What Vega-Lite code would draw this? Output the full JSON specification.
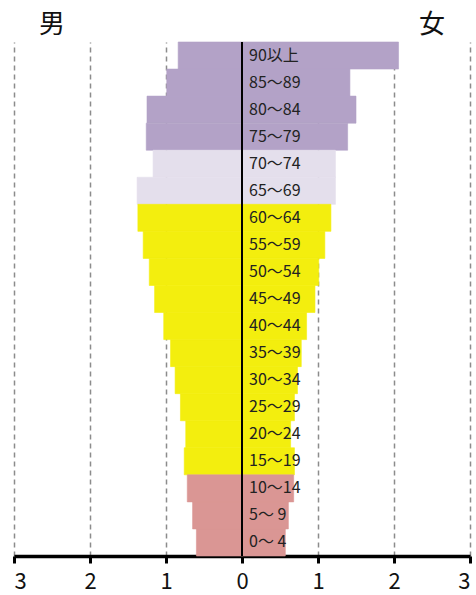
{
  "$schema": "https://vega.github.io/schema/vega-lite/v6.json",
  "autosize": "none",
  "width": 456,
  "height": 514,
  "padding": {"left": 14, "top": 42, "right": 6, "bottom": 39},
  "background": "white",
  "config": {"view": {"stroke": null}, "font": "Noto Sans CJK JP"},
  "datasets": {
    "pop": [
      {"age": "90以上", "sex": "男", "value": -0.84, "group": "75歳以上"},
      {"age": "85～89", "sex": "男", "value": -0.99, "group": "75歳以上"},
      {"age": "80～84", "sex": "男", "value": -1.25, "group": "75歳以上"},
      {"age": "75～79", "sex": "男", "value": -1.26, "group": "75歳以上"},
      {"age": "70～74", "sex": "男", "value": -1.17, "group": "65～74歳"},
      {"age": "65～69", "sex": "男", "value": -1.38, "group": "65～74歳"},
      {"age": "60～64", "sex": "男", "value": -1.37, "group": "15～64歳"},
      {"age": "55～59", "sex": "男", "value": -1.30, "group": "15～64歳"},
      {"age": "50～54", "sex": "男", "value": -1.22, "group": "15～64歳"},
      {"age": "45～49", "sex": "男", "value": -1.15, "group": "15～64歳"},
      {"age": "40～44", "sex": "男", "value": -1.03, "group": "15～64歳"},
      {"age": "35～39", "sex": "男", "value": -0.94, "group": "15～64歳"},
      {"age": "30～34", "sex": "男", "value": -0.88, "group": "15～64歳"},
      {"age": "25～29", "sex": "男", "value": -0.81, "group": "15～64歳"},
      {"age": "20～24", "sex": "男", "value": -0.74, "group": "15～64歳"},
      {"age": "15～19", "sex": "男", "value": -0.76, "group": "15～64歳"},
      {"age": "10～14", "sex": "男", "value": -0.72, "group": "0～14歳"},
      {"age": "\u20025～ 9", "sex": "男", "value": -0.65, "group": "0～14歳"},
      {"age": "\u20020～ 4", "sex": "男", "value": -0.60, "group": "0～14歳"},
      {"age": "90以上", "sex": "女", "value": 2.06, "group": "75歳以上"},
      {"age": "85～89", "sex": "女", "value": 1.42, "group": "75歳以上"},
      {"age": "80～84", "sex": "女", "value": 1.50, "group": "75歳以上"},
      {"age": "75～79", "sex": "女", "value": 1.39, "group": "75歳以上"},
      {"age": "70～74", "sex": "女", "value": 1.23, "group": "65～74歳"},
      {"age": "65～69", "sex": "女", "value": 1.23, "group": "65～74歳"},
      {"age": "60～64", "sex": "女", "value": 1.17, "group": "15～64歳"},
      {"age": "55～59", "sex": "女", "value": 1.09, "group": "15～64歳"},
      {"age": "50～54", "sex": "女", "value": 1.01, "group": "15～64歳"},
      {"age": "45～49", "sex": "女", "value": 0.96, "group": "15～64歳"},
      {"age": "40～44", "sex": "女", "value": 0.85, "group": "15～64歳"},
      {"age": "35～39", "sex": "女", "value": 0.78, "group": "15～64歳"},
      {"age": "30～34", "sex": "女", "value": 0.73, "group": "15～64歳"},
      {"age": "25～29", "sex": "女", "value": 0.69, "group": "15～64歳"},
      {"age": "20～24", "sex": "女", "value": 0.64, "group": "15～64歳"},
      {"age": "15～19", "sex": "女", "value": 0.69, "group": "15～64歳"},
      {"age": "10～14", "sex": "女", "value": 0.68, "group": "0～14歳"},
      {"age": "\u20025～ 9", "sex": "女", "value": 0.61, "group": "0～14歳"},
      {"age": "\u20020～ 4", "sex": "女", "value": 0.57, "group": "0～14歳"}
    ],
    "heads": [
      {"label": "男", "x": -2.5},
      {"label": "女", "x": 2.5}
    ]
  },
  "layer": [
    {
      "data": {"name": "pop"},
      "mark": {"type": "bar", "strokeWidth": 0.6},
      "encoding": {
        "y": {
          "field": "age",
          "type": "nominal",
          "sort": null,
          "scale": {"paddingInner": 0, "paddingOuter": 0},
          "axis": null
        },
        "x": {
          "field": "value",
          "type": "quantitative",
          "scale": {"domain": [-3, 3], "nice": false, "zero": false},
          "axis": {
            "values": [-3, -2, -1, 0, 1, 2, 3],
            "labelExpr": "abs(datum.value)",
            "title": null,
            "grid": true,
            "gridDash": [5, 4],
            "gridColor": "#8c8c8c",
            "gridWidth": 1.5,
            "domainColor": "black",
            "domainWidth": 3.5,
            "tickColor": "black",
            "tickWidth": 3,
            "tickSize": 7,
            "labelFontSize": 22,
            "labelColor": "#111",
            "labelPadding": 8,
            "labelFont": "Noto Sans CJK JP"
          }
        },
        "x2": {"datum": 0},
        "color": {
          "field": "group",
          "type": "nominal",
          "scale": {
            "domain": ["75歳以上", "65～74歳", "15～64歳", "0～14歳"],
            "range": ["#B3A2C7", "#E4DFEC", "#F3EE0E", "#DA9694"]
          },
          "legend": null
        },
        "stroke": {
          "field": "group",
          "type": "nominal",
          "scale": {
            "domain": ["75歳以上", "65～74歳", "15～64歳", "0～14歳"],
            "range": ["#B3A2C7", "#E4DFEC", "#F3EE0E", "#DA9694"]
          },
          "legend": null
        }
      }
    },
    {
      "data": {"values": [{"x": 0}]},
      "mark": {"type": "rule", "color": "black", "strokeWidth": 2},
      "encoding": {"x": {"field": "x", "type": "quantitative"}}
    },
    {
      "data": {"name": "pop"},
      "transform": [{"filter": "datum.sex == '女'"}],
      "mark": {"type": "text", "align": "left", "dx": 7, "fontSize": 16, "color": "#222", "font": "Noto Sans CJK JP"},
      "encoding": {
        "y": {"field": "age", "type": "nominal", "sort": null},
        "x": {"datum": 0},
        "text": {"field": "age"}
      }
    },
    {
      "data": {"name": "heads"},
      "mark": {"type": "text", "align": "center", "baseline": "middle", "fontSize": 26, "color": "#111", "font": "Noto Sans CJK JP", "clip": false},
      "encoding": {
        "x": {"field": "x", "type": "quantitative"},
        "y": {"value": -17},
        "text": {"field": "label"}
      }
    }
  ]
}
